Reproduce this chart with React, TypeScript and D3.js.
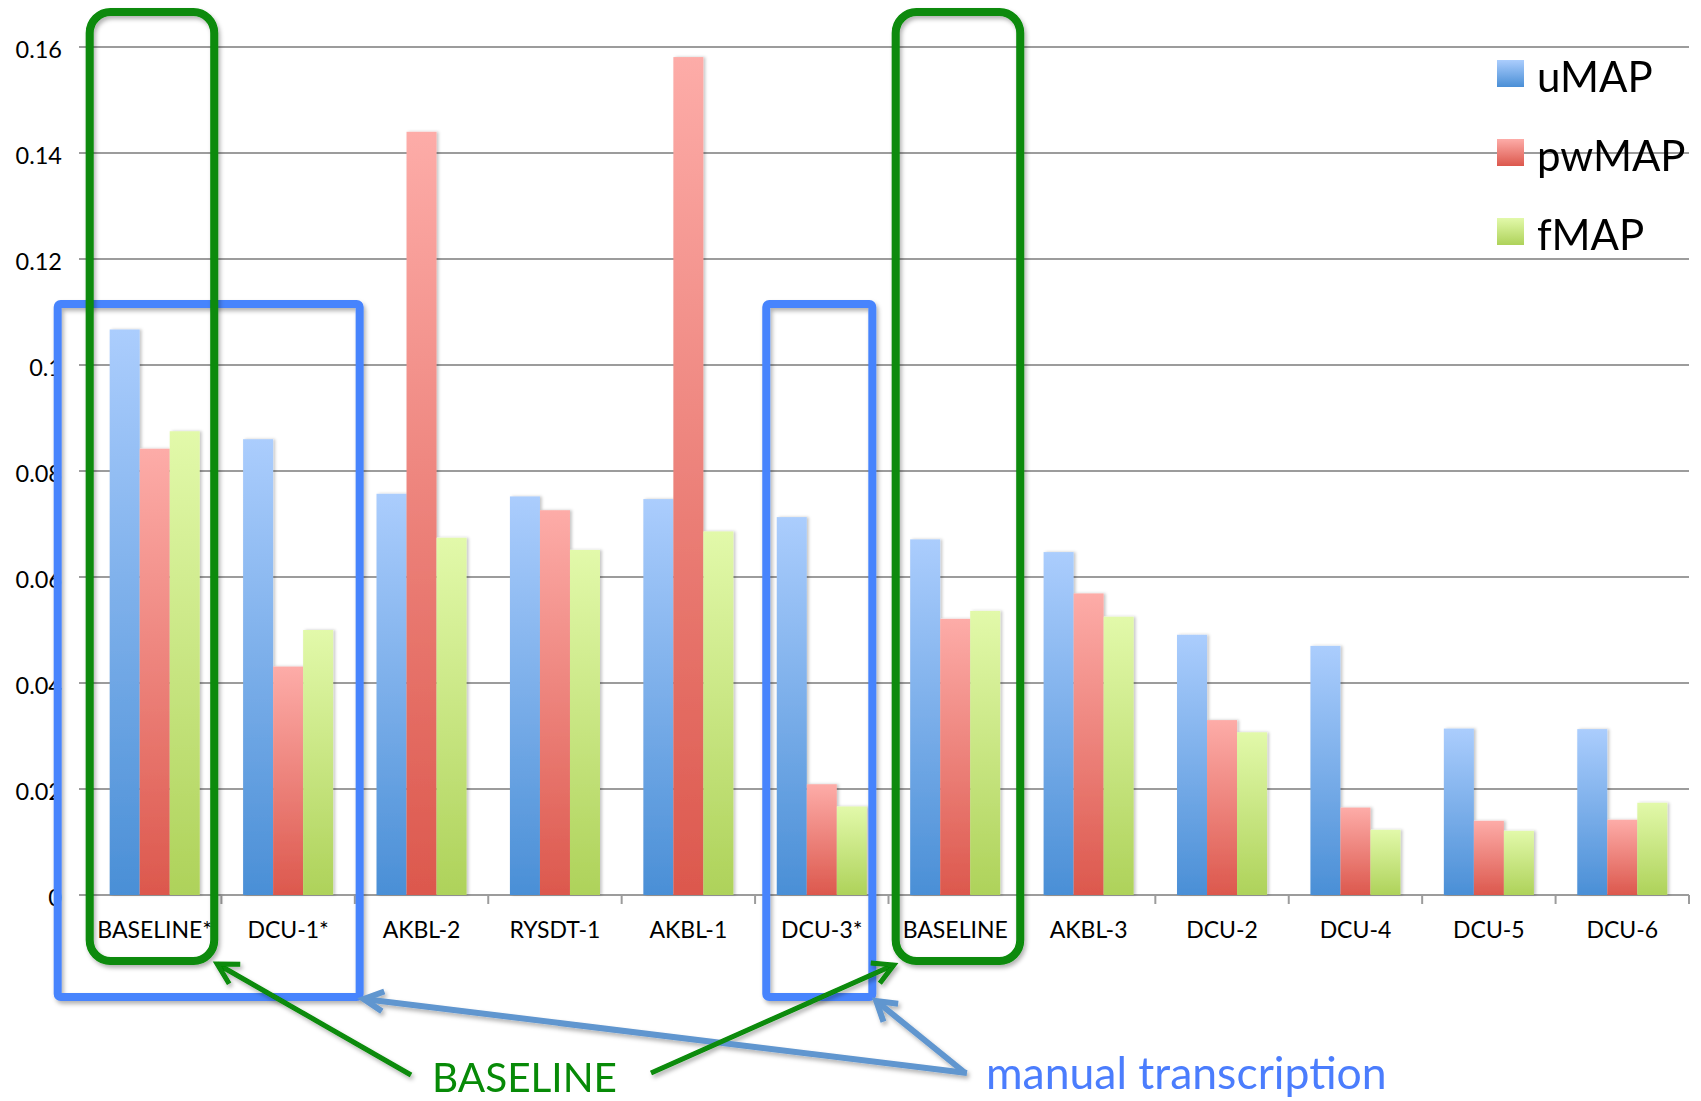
import React from "react";
import * as d3 from "d3";

// Runs (x-axis categories)
const categories = [
  "BASELINE*", "DCU-1*", "AKBL-2", "RYSDT-1", "AKBL-1", "DCU-3*",
  "BASELINE", "AKBL-3", "DCU-2", "DCU-4", "DCU-5", "DCU-6",
];

// Series names
const seriesNames = ["uMAP", "pwMAP", "fMAP"];

// Series values per category
const uMAP = [0.1067, 0.086, 0.0757, 0.0752, 0.0747, 0.0713, 0.0671, 0.0647, 0.0491, 0.047, 0.0314, 0.0313];
const pwMAP = [0.0842, 0.0431, 0.144, 0.0726, 0.1581, 0.0209, 0.0521, 0.0569, 0.033, 0.0165, 0.014, 0.0142];
const fMAP = [0.0875, 0.05, 0.0674, 0.0651, 0.0686, 0.0167, 0.0536, 0.0525, 0.0307, 0.0123, 0.0121, 0.0174];

// Y axis ticks
const yTickValues = [0, 0.02, 0.04, 0.06, 0.08, 0.1, 0.12, 0.14, 0.16];
const yTickLabels = ["0", "0.02", "0.04", "0.06", "0.08", "0.1", "0.12", "0.14", "0.16"];

// Highlighted groups (first and last category of each) and callouts
const baselineGroups = [["BASELINE*", "BASELINE*"], ["BASELINE", "BASELINE"]];
const manualGroups = [["BASELINE*", "DCU-1*"], ["DCU-3*", "DCU-3*"]];
const baselineCallout = "BASELINE";
const manualCallout = "manual transcription";

const W = 1701;
const H = 1101;
const plot = { left: 88, right: 1689, top: 47, bottom: 895 };
const FONT = "Lato, 'Open Sans', sans-serif";

const gradients = [
  { id: "g-blue", top: "#abcdfd", bottom: "#4a8fd6" },
  { id: "g-red", top: "#fdaca8", bottom: "#dc584d" },
  { id: "g-green", top: "#e2f9aa", bottom: "#aed25a" },
];

const GREEN = "#078a07";
const BLUE_BOX = "#4784fd";
const BLUE_ARROW = "#6196cf";
const BLUE_TEXT = "#4b7dfd";

// margins (left, right) of each highlight box around its bars
const greenPads = [[20, 14.5], [14.5, 20]];
const bluePads = [[52, 26.5], [10.5, 5.5]];

function arrowPath(tail: [number, number], tip: [number, number], len = 23, spread = 29) {
  const back = Math.atan2(tail[1] - tip[1], tail[0] - tip[0]);
  const a = (spread * Math.PI) / 180;
  const p1: [number, number] = [tip[0] + len * Math.cos(back - a), tip[1] + len * Math.sin(back - a)];
  const p2: [number, number] = [tip[0] + len * Math.cos(back + a), tip[1] + len * Math.sin(back + a)];
  const line = d3.line();
  return {
    shaft: line([tail, tip]) as string,
    head: line([p1, tip, p2]) as string,
  };
}

export default function App() {
  const values = [uMAP, pwMAP, fMAP];

  const x0 = d3
    .scaleBand<string>()
    .domain(categories)
    .range([plot.left, plot.right])
    .paddingInner(0.325)
    .paddingOuter(0.1625);
  const x1 = d3.scaleBand<string>().domain(seriesNames).range([0, x0.bandwidth()]);
  const y = d3.scaleLinear().domain([0, 0.16]).range([plot.bottom, plot.top]);

  const step = x0.step();
  const boundaries = d3.range(categories.length + 1).map((i) => plot.left + i * step);

  // Highlight boxes, placed around the bar groups they enclose
  const greenBoxes = baselineGroups.map(([a, b], i) => ({
    x: (x0(a) as number) - greenPads[i][0],
    x2: (x0(b) as number) + x0.bandwidth() + greenPads[i][1],
    top: 12,
    bottom: 961,
  }));
  const blueBoxes = manualGroups.map(([a, b], i) => ({
    x: (x0(a) as number) - bluePads[i][0],
    x2: (x0(b) as number) + x0.bandwidth() + bluePads[i][1],
    top: 304,
    bottom: 997,
  }));

  const gArrow1 = arrowPath([411, 1075], [greenBoxes[0].x2 + 3, greenBoxes[0].bottom + 3], 23, 29);
  const gArrow2 = arrowPath([651, 1073], [greenBoxes[1].x - 2, greenBoxes[1].bottom + 4], 23, 29);
  const bArrow1 = arrowPath([967, 1073], [blueBoxes[0].x2 + 4, blueBoxes[0].bottom + 2], 22, 27);
  const bArrow2 = arrowPath([964, 1072], [blueBoxes[1].x2 + 4, blueBoxes[1].bottom + 4], 22, 32);

  return (
    <div style={{ position: "absolute", left: 0, top: 0, width: W, height: H, background: "#fff" }}>
      <svg width={W} height={H} viewBox={`0 0 ${W} ${H}`} style={{ display: "block" }}>
        <defs>
          {gradients.map((g) => (
            <linearGradient key={g.id} id={g.id} x1="0" y1="0" x2="0" y2="1">
              <stop offset="0%" stopColor={g.top} />
              <stop offset="100%" stopColor={g.bottom} />
            </linearGradient>
          ))}
          <filter id="barShadow" x="-20%" y="-5%" width="150%" height="110%">
            <feDropShadow dx="2" dy="0" stdDeviation="1.5" floodColor="#000" floodOpacity="0.22" />
          </filter>
          <filter id="shapeShadow" x="-10%" y="-10%" width="130%" height="130%">
            <feDropShadow dx="2" dy="3" stdDeviation="2" floodColor="#000" floodOpacity="0.3" />
          </filter>
        </defs>
        <rect width={W} height={H} fill="#fff" />

        {/* gridlines */}
        {yTickValues.map((v) => (
          <line key={v} x1={79} x2={plot.right} y1={y(v)} y2={y(v)} stroke="#9c9c9c" strokeWidth={2} />
        ))}
        {/* category tick marks */}
        {boundaries.map((bx, i) => (
          <line key={i} x1={bx} x2={bx} y1={plot.bottom} y2={plot.bottom + 9} stroke="#9c9c9c" strokeWidth={2} />
        ))}

        {/* y tick labels */}
        {yTickValues.map((v, i) => (
          <text key={v} x={62} y={y(v) + 11} textAnchor="end" fontFamily={FONT} fontSize={23.5} fill="#000">
            {yTickLabels[i]}
          </text>
        ))}

        {/* bars */}
        <g filter="url(#barShadow)">
          {categories.map((c, ci) => (
            <g key={c} transform={`translate(${x0(c)},0)`}>
              {seriesNames.map((s, si) => (
                <rect
                  key={s}
                  x={x1(s)}
                  y={y(values[si][ci])}
                  width={x1.bandwidth()}
                  height={y(0) - y(values[si][ci])}
                  fill={`url(#${gradients[si].id})`}
                />
              ))}
            </g>
          ))}
        </g>

        {/* x labels */}
        {categories.map((c) => (
          <text
            key={c}
            x={(x0(c) as number) + x0.bandwidth() / 2}
            y={938}
            textAnchor="middle"
            fontFamily={FONT}
            fontSize={23}
            fill="#000"
          >
            {c}
          </text>
        ))}

        {/* legend */}
        {seriesNames.map((s, i) => (
          <g key={s} transform={`translate(1497,${60 + i * 79})`}>
            <rect width={27} height={27} fill={`url(#${gradients[i].id})`} />
            <text x={40} y={32} fontFamily={FONT} fontSize={42} fill="#000">
              {s}
            </text>
          </g>
        ))}

        {/* manual transcription boxes */}
        <g filter="url(#shapeShadow)">
          {blueBoxes.map((b, i) => (
            <rect
              key={i}
              x={b.x}
              y={b.top}
              width={b.x2 - b.x}
              height={b.bottom - b.top}
              rx={3}
              fill="none"
              stroke={BLUE_BOX}
              strokeWidth={8}
            />
          ))}
        </g>

        {/* baseline boxes */}
        <g filter="url(#shapeShadow)">
          {greenBoxes.map((b, i) => (
            <rect
              key={i}
              x={b.x}
              y={b.top}
              width={b.x2 - b.x}
              height={b.bottom - b.top}
              rx={21}
              fill="none"
              stroke={GREEN}
              strokeWidth={8}
            />
          ))}
        </g>

        {/* callout arrows */}
        <g filter="url(#shapeShadow)" fill="none" strokeLinecap="butt" strokeLinejoin="miter">
          {[bArrow1, bArrow2].map((a, i) => (
            <g key={"b" + i} stroke={BLUE_ARROW} strokeWidth={6}>
              <path d={a.shaft} />
              <path d={a.head} />
            </g>
          ))}
          {[gArrow1, gArrow2].map((a, i) => (
            <g key={"g" + i} stroke={GREEN} strokeWidth={5}>
              <path d={a.shaft} />
              <path d={a.head} />
            </g>
          ))}
        </g>

        {/* callout texts */}
        <text x={432} y={1092} fontFamily={FONT} fontSize={40.5} fill={GREEN}>
          {baselineCallout}
        </text>
        <text x={986} y={1089} fontFamily={FONT} fontSize={44.5} fill={BLUE_TEXT}>
          {manualCallout}
        </text>
      </svg>
    </div>
  );
}
